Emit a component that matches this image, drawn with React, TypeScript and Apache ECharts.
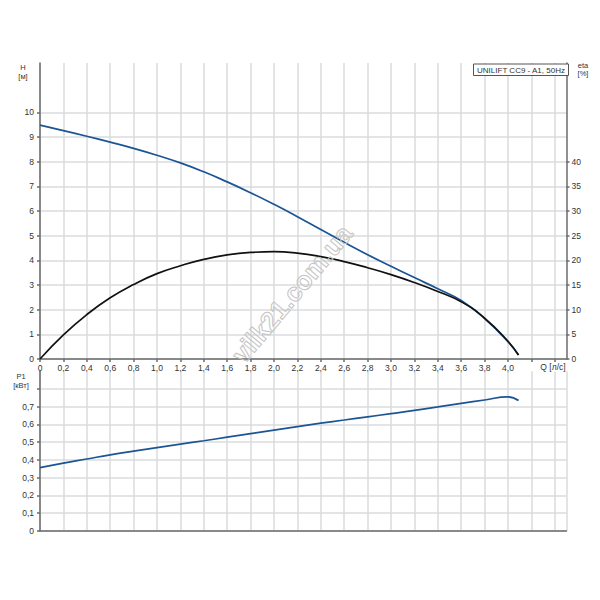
import React, { useEffect, useRef } from "react";
import * as echarts from "echarts";

// Flow rate Q [l/s]
const Q = [0, 0.2, 0.4, 0.6, 0.8, 1.0, 1.2, 1.4, 1.6, 1.8, 2.0, 2.2, 2.4, 2.6, 2.8, 3.0, 3.2, 3.4, 3.6, 3.8, 4.0, 4.09];
// Head H [m]
const H_VALUES = [9.48, 9.26, 9.03, 8.79, 8.54, 8.26, 7.95, 7.59, 7.18, 6.74, 6.27, 5.77, 5.25, 4.73, 4.23, 3.76, 3.30, 2.85, 2.37, 1.64, 0.7, 0.16];
// Efficiency eta [%]
const ETA_VALUES = [0, 4.9, 9.0, 12.4, 15.1, 17.3, 18.9, 20.2, 21.1, 21.6, 21.75, 21.45, 20.75, 19.75, 18.5, 17.1, 15.5, 13.7, 11.6, 8.3, 3.6, 0.8];
// Power P1 [kW]
const P1_VALUES = [0.356, 0.382, 0.405, 0.428, 0.449, 0.469, 0.489, 0.508, 0.528, 0.548, 0.568, 0.588, 0.607, 0.625, 0.643, 0.661, 0.679, 0.699, 0.719, 0.738, 0.756, 0.735];

// Tick labels / tick positions
const X_LABELS = [0, 0.2, 0.4, 0.6, 0.8, 1.0, 1.2, 1.4, 1.6, 1.8, 2.0, 2.2, 2.4, 2.6, 2.8, 3.0, 3.2, 3.4, 3.6, 3.8, 4.0];
const X_TICKS = [...X_LABELS, 4.2, 4.4];
const H_LABELS = [0, 1, 2, 3, 4, 5, 6, 7, 8, 9, 10];
const ETA_LABELS = [0, 5, 10, 15, 20, 25, 30, 35, 40];
const P_LABELS = [0, 0.1, 0.2, 0.3, 0.4, 0.5, 0.6, 0.7];
const P_TICKS = [...P_LABELS, 0.8];

const TITLE = "UNILIFT CC9 - A1, 50Hz";
const WATERMARK = "vilk21.com.ua";

const fmt = (v: number) => (v === 0 ? "0" : v.toFixed(1).replace(".", ","));

export default function App() {
  const ref = useRef<HTMLDivElement>(null);
  useEffect(() => {
    const chart = echarts.init(ref.current!, null, { renderer: "svg" });
    const font = "'Liberation Sans', Arial, sans-serif";
    const axisColor = "#6b6b6b";
    const lineStyle = { color: axisColor, width: 1.5 };
    const splitLine = { show: true, lineStyle: { color: "#d8dbde", width: 1.5 } };
    const label = { fontSize: 8.5, color: "#333", fontFamily: font };
    const nameText = (text: string, x: number, y: number) => ({
      type: "text",
      x,
      y,
      style: { text, fontSize: 7.5, fontFamily: font, fill: "#333", align: "center", verticalAlign: "middle" },
    });

    chart.setOption({
      animation: false,
      backgroundColor: "#ffffff",
      grid: [
        { left: 40, top: 63, width: 526.5, height: 296, containLabel: false, outerBoundsMode: "none" },
        { left: 40, top: 371.3, width: 526.5, height: 159.4, containLabel: false, outerBoundsMode: "none" },
      ],
      xAxis: [
        {
          type: "value",
          gridIndex: 0,
          min: 0,
          max: 4.5,
          interval: 0.2,
          axisLine: { show: true, onZero: false, lineStyle },
          axisTick: { show: true, length: 3, customValues: X_TICKS, lineStyle },
          axisLabel: { ...label, margin: 4, customValues: X_LABELS, formatter: fmt },
          splitLine,
        },
        {
          type: "value",
          gridIndex: 1,
          min: 0,
          max: 4.5,
          interval: 0.2,
          axisLine: { show: true, onZero: false, lineStyle },
          axisTick: { show: false },
          axisLabel: { show: false },
          splitLine,
        },
      ],
      yAxis: [
        {
          type: "value",
          gridIndex: 0,
          min: 0,
          max: 12,
          interval: 1,
          axisLine: { show: true, onZero: false, lineStyle },
          axisTick: { show: true, length: 3, customValues: H_LABELS, lineStyle },
          axisLabel: { ...label, margin: 6, customValues: H_LABELS, formatter: (v: number) => String(v) },
          splitLine,
        },
        {
          type: "value",
          gridIndex: 0,
          position: "right",
          min: 0,
          max: 60,
          interval: 5,
          axisLine: { show: true, onZero: false, lineStyle },
          axisTick: { show: true, length: 3, customValues: ETA_LABELS, lineStyle },
          axisLabel: { ...label, margin: 5, customValues: ETA_LABELS, formatter: (v: number) => String(v) },
          splitLine: { show: false },
        },
        {
          type: "value",
          gridIndex: 1,
          min: 0,
          max: 0.9,
          interval: 0.1,
          axisLine: { show: true, onZero: false, lineStyle },
          axisTick: { show: true, length: 3, customValues: P_TICKS, lineStyle },
          axisLabel: { ...label, margin: 6, customValues: P_LABELS, formatter: fmt },
          splitLine,
        },
      ],
      series: [
        {
          type: "line",
          name: "H",
          xAxisIndex: 0,
          yAxisIndex: 0,
          data: Q.map((q, i) => [q, H_VALUES[i]]),
          showSymbol: false,
          symbol: "none",
          smooth: 0.5,
          lineStyle: { color: "#1c5593", width: 1.7 },
          z: 3,
        },
        {
          type: "line",
          name: "eta",
          xAxisIndex: 0,
          yAxisIndex: 1,
          data: Q.map((q, i) => [q, ETA_VALUES[i]]),
          showSymbol: false,
          symbol: "none",
          smooth: 0.5,
          lineStyle: { color: "#111111", width: 1.7 },
          z: 4,
        },
        {
          type: "line",
          name: "P1",
          xAxisIndex: 1,
          yAxisIndex: 2,
          data: Q.map((q, i) => [q, P1_VALUES[i]]),
          showSymbol: false,
          symbol: "none",
          smooth: 0.5,
          lineStyle: { color: "#1c5593", width: 1.7 },
          z: 3,
        },
      ],
      graphic: [
        nameText("H", 23, 67),
        nameText("[м]", 23, 76),
        nameText("eta", 583, 65),
        nameText("[%]", 583, 73),
        nameText("P1", 21, 376),
        nameText("[кВт]", 21, 385),
        {
          type: "text",
          x: 553,
          y: 367,
          style: { text: "Q [л/с]", fontSize: 8.5, fontFamily: font, fill: "#333", align: "center", verticalAlign: "middle" },
        },
        {
          type: "rect",
          shape: { x: 473.5, y: 64, width: 95, height: 11.5 },
          style: { fill: "#ffffff", stroke: "#555", lineWidth: 1 },
          z: 10,
        },
        {
          type: "text",
          x: 521,
          y: 70,
          style: { text: TITLE, fontSize: 8, fontFamily: font, fill: "#333", align: "center", verticalAlign: "middle" },
          z: 11,
        },
        {
          type: "text",
          x: 292,
          y: 294,
          rotation: (50 * Math.PI) / 180,
          style: {
            text: WATERMARK,
            fontSize: 26,
            fontWeight: "bold",
            fontFamily: font,
            fill: "rgba(255,255,255,0)",
            stroke: "#c4c4c4",
            lineWidth: 1,
            align: "center",
            verticalAlign: "middle",
          },
          z: 20,
        },
      ],
    });
    return () => chart.dispose();
  }, []);
  return <div ref={ref} style={{ position: "fixed", left: 0, top: 0, width: 600, height: 600 }} />;
}
